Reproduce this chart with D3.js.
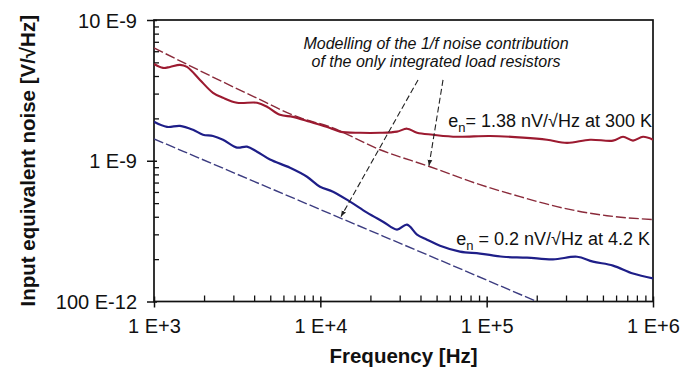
<!DOCTYPE html>
<html><head><meta charset="utf-8">
<script src="https://cdn.jsdelivr.net/npm/d3@7"></script>
<style>
html,body{margin:0;padding:0;background:#fff;}
svg{display:block;font-family:"Liberation Sans",Arial,sans-serif;}
</style></head>
<body><svg id="c" width="696" height="368"></svg>
<script>
// ---- data (frequency in Hz, noise in nV/√Hz) ----
const xMajor = [1e3, 1e4, 1e5, 1e6];
const xTickLabels = ["1 E+3", "1 E+4", "1 E+5", "1 E+6"];
const yMajor = [0.1, 1, 10];
const yTickLabels = ["100 E-12", "1 E-9", "10 E-9"];

// measured, 300 K (red)
const red300F = [1000,1133,1248,1433,1579,1890,2263,2599,3155,4163,4779,5721,6848,8667,11430,13130,17320,22850,28900,33200,38130,47580,66320,104700,165400,230600,304100,418100,574900,660200,758300,870900,1000000];
const red300V = [4.87,4.57,4.64,4.80,4.64,3.75,3.04,2.80,2.58,2.58,2.42,2.12,2.05,1.89,1.71,1.61,1.58,1.58,1.61,1.69,1.58,1.53,1.48,1.50,1.46,1.41,1.34,1.41,1.39,1.48,1.39,1.48,1.41];

// measured, 4.2 K (blue)
const blue4F = [1000,1197,1433,1716,1970,2263,2599,3155,3623,4163,4982,6572,8318,9955,11920,15080,19090,23810,28900,33200,38130,43780,52420,69120,91200,125400,174800,250500,349300,435900,574900,758300,1000000];
const blue4V = [1.89,1.74,1.77,1.66,1.53,1.50,1.41,1.24,1.26,1.16,1.02,0.892,0.770,0.654,0.603,0.512,0.428,0.369,0.324,0.352,0.299,0.275,0.249,0.226,0.219,0.208,0.205,0.199,0.208,0.192,0.180,0.158,0.146];

// 1/f model of load resistors, 300 K (red dashed)
const model300F = [1000,3778,7547,11430,22850,45640,91200,158700,264800,529100,1000000];
const model300V = [6.33,2.94,2.02,1.74,1.197,0.907,0.676,0.556,0.472,0.407,0.382];

// 1/f model of load resistors, 4.2 K (blue dashed)
const model4F = [1000,10000,100000,200000];
const model4V = [1.43,0.45,0.142,0.100];

// annotation arrows: [fromF, fromV, toF, toV]
const arrowsF = [[38660, 13310], [54640, 45000]];
const arrowsV = [[3.75, 0.401], [3.75, 0.922]];

// ---- layout ----
const svg = d3.select("#c");
const L = 154, R = 653, T = 20, B = 301.5;
const x = d3.scaleLog().domain([1e3, 1e6]).range([L, R]);
const y = d3.scaleLog().domain([0.1, 10]).range([B, T]);

const zip = (F, V) => F.map((f, i) => [f, V[i]]);

svg.append("defs").append("clipPath").attr("id", "clip")
  .append("rect").attr("x", L).attr("y", T).attr("width", R - L).attr("height", B - T);
const mk = svg.select("defs").append("marker").attr("id", "ah")
  .attr("viewBox", "0 0 10 10").attr("refX", 10).attr("refY", 5)
  .attr("markerWidth", 6).attr("markerHeight", 6).attr("orient", "auto")
  .attr("markerUnits", "userSpaceOnUse");
mk.append("path").attr("d", "M0,1 L10,5 L0,9 Z").attr("fill", "#222");

const minorX = [];
for (let d = 1e3; d < 1e6; d *= 10) for (let k = 2; k <= 9; k++) minorX.push(d * k);
const minorY = [];
for (let d = 0.1; d < 10; d *= 10) for (let k = 2; k <= 9; k++) minorY.push(+(d * k).toPrecision(3));

// minor ticks (inside)
svg.append("g").attr("transform", `translate(0,${B})`)
  .call(d3.axisTop(x).tickValues(minorX).tickSize(6).tickFormat(""))
  .call(g => g.select(".domain").remove())
  .call(g => g.selectAll("line").attr("stroke", "#111").attr("stroke-width", 1.3));
svg.append("g").attr("transform", `translate(${L},0)`)
  .call(d3.axisRight(y).tickValues(minorY).tickSize(5).tickFormat(""))
  .call(g => g.select(".domain").remove())
  .call(g => g.selectAll("line").attr("stroke", "#111").attr("stroke-width", 1.3));

// major x axis
svg.append("g").attr("transform", `translate(0,${B})`)
  .call(d3.axisBottom(x).tickValues(xMajor).tickSize(6).tickSizeOuter(0)
    .tickFormat((d, i) => xTickLabels[i]))
  .call(g => g.select(".domain").remove())
  .call(g => g.selectAll("line").attr("y1", -5).attr("stroke", "#111").attr("stroke-width", 1.5))
  .call(g => g.selectAll("text").attr("y", 31.5).attr("dy", 0)
    .attr("font-size", 20).attr("fill", "#111").attr("font-family", "Liberation Sans, Arial, sans-serif"));

// major y axis
svg.append("g").attr("transform", `translate(${L},0)`)
  .call(d3.axisLeft(y).tickValues(yMajor).tickSize(7).tickSizeOuter(0)
    .tickFormat((d, i) => yTickLabels[i]))
  .call(g => g.select(".domain").remove())
  .call(g => g.selectAll("line").attr("x1", 3).attr("stroke", "#111").attr("stroke-width", 1.5))
  .call(g => g.selectAll("text").attr("x", -17).attr("dy", "0.35em")
    .attr("font-size", 20).attr("fill", "#111").attr("font-family", "Liberation Sans, Arial, sans-serif"));

// frame
svg.append("rect").attr("x", L).attr("y", T).attr("width", R - L).attr("height", B - T)
  .attr("fill", "none").attr("stroke", "#111").attr("stroke-width", 1.7);

// series
const plot = svg.append("g").attr("clip-path", "url(#clip)");
const line = d3.line().x(d => x(d[0])).y(d => y(d[1])).curve(d3.curveCatmullRom.alpha(0.5));
const mline = d3.line().x(d => x(d[0])).y(d => y(d[1])).curve(d3.curveMonotoneX);

plot.append("path").datum(zip(model300F, model300V)).attr("d", mline)
  .attr("fill", "none").attr("stroke", "#8a2a3a").attr("stroke-width", 1.4).attr("stroke-dasharray", "10,3");
plot.append("path").datum(zip(model4F, model4V)).attr("d", mline)
  .attr("fill", "none").attr("stroke", "#3c3c80").attr("stroke-width", 1.4).attr("stroke-dasharray", "10,3");
plot.append("path").datum(zip(red300F, red300V)).attr("d", line)
  .attr("fill", "none").attr("stroke", "#9c1a30").attr("stroke-width", 2.1);
plot.append("path").datum(zip(blue4F, blue4V)).attr("d", line)
  .attr("fill", "none").attr("stroke", "#1e1e88").attr("stroke-width", 2.2);

// annotation arrows
arrowsF.forEach((af, i) => {
  svg.append("line")
    .attr("x1", x(af[0])).attr("y1", y(arrowsV[i][0]))
    .attr("x2", x(af[1])).attr("y2", y(arrowsV[i][1]))
    .attr("stroke", "#222").attr("stroke-width", 1.1).attr("stroke-dasharray", "6,3")
    .attr("marker-end", "url(#ah)");
});

// annotation text
const ann = svg.append("text").attr("font-style", "italic").attr("font-size", 16)
  .attr("fill", "#111").attr("text-anchor", "middle");
ann.append("tspan").attr("x", 436).attr("y", 49).text("Modelling of the 1/f noise contribution");
ann.append("tspan").attr("x", 436).attr("y", 67).text("of the only integrated load resistors");

function enLabel(xr, yb, rest) {
  const t = svg.append("text").attr("x", xr).attr("y", yb).attr("text-anchor", "end")
    .attr("font-size", 18).attr("fill", "#111");
  t.append("tspan").text("e");
  t.append("tspan").attr("font-size", 13).attr("dy", 5).text("n");
  t.append("tspan").attr("dy", -5).text(rest);
}
enLabel(652, 127, "= 1.38 nV/\u221AHz at 300 K");
enLabel(650, 245, " = 0.2 nV/\u221AHz at 4.2 K");

// axis titles
svg.append("text").attr("x", (L + R) / 2).attr("y", 363).attr("text-anchor", "middle")
  .attr("font-weight", "bold").attr("font-size", 20.5).attr("fill", "#111").text("Frequency [Hz]");
svg.append("text").attr("transform", `translate(35,${(T + B) / 2}) rotate(-90)`)
  .attr("text-anchor", "middle").attr("font-weight", "bold").attr("font-size", 20.5)
  .attr("fill", "#111").text("Input equivalent noise [V/\u221AHz]");
</script></body></html>
